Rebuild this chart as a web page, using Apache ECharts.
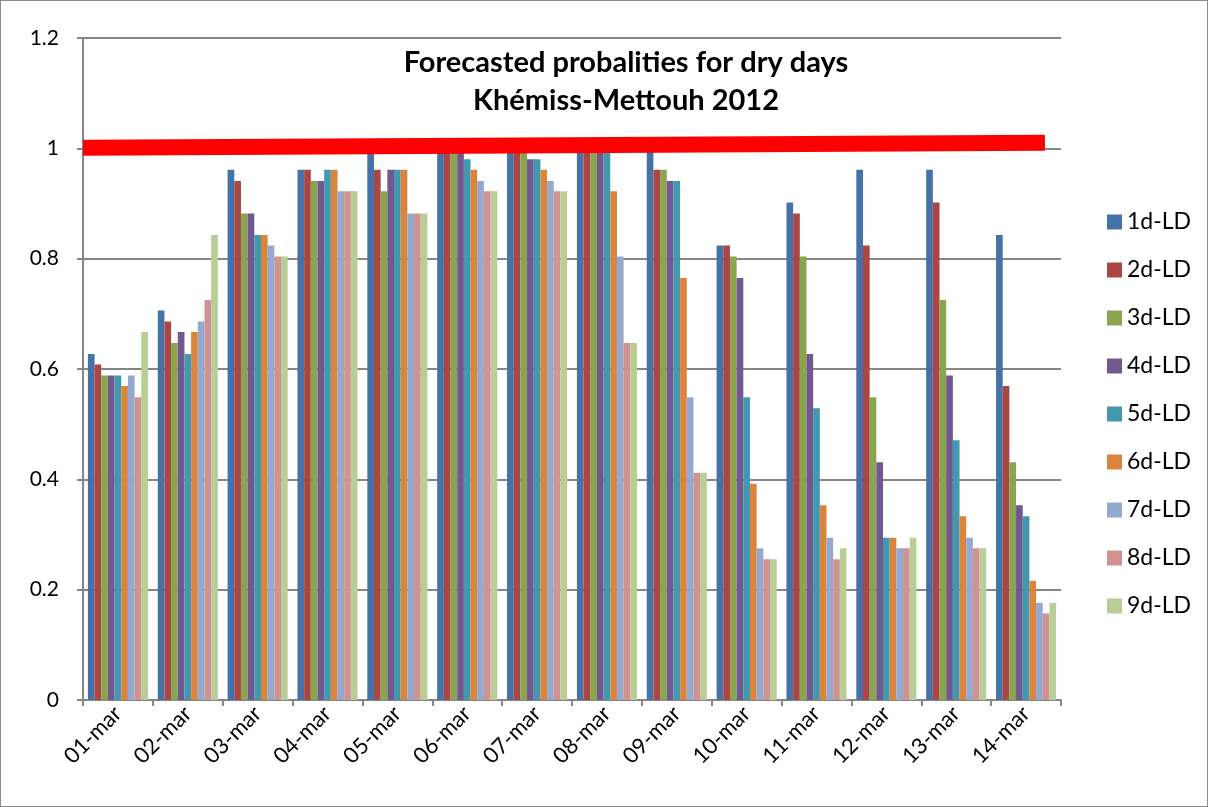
<!DOCTYPE html>
<html>
<head>
<meta charset="utf-8">
<script src="https://cdn.jsdelivr.net/npm/echarts@6/dist/echarts.min.js"></script>
<style>
  html, body { margin: 0; padding: 0; background: #fff; }
  #chart { width: 1206px; height: 805px; border: 1px solid #8c8c8c; }
</style>
</head>
<body>
<div id="chart"></div>
<script>
// Days of March 2012
const categories = ['01-mar', '02-mar', '03-mar', '04-mar', '05-mar', '06-mar', '07-mar',
                    '08-mar', '09-mar', '10-mar', '11-mar', '12-mar', '13-mar', '14-mar'];

// Forecasted probability of a dry day, per lead time (1 to 9 days)
const ld1 = [0.627, 0.706, 0.961, 0.961, 1.000, 1.000, 1.000, 1.000, 1.000, 0.824, 0.902, 0.961, 0.961, 0.843];
const ld2 = [0.608, 0.686, 0.941, 0.961, 0.961, 1.000, 1.000, 1.000, 0.961, 0.824, 0.882, 0.824, 0.902, 0.569];
const ld3 = [0.588, 0.647, 0.882, 0.941, 0.922, 1.000, 1.000, 1.000, 0.961, 0.804, 0.804, 0.549, 0.725, 0.431];
const ld4 = [0.588, 0.667, 0.882, 0.941, 0.961, 1.000, 0.980, 1.000, 0.941, 0.765, 0.627, 0.431, 0.588, 0.353];
const ld5 = [0.588, 0.627, 0.843, 0.961, 0.961, 0.980, 0.980, 1.000, 0.941, 0.549, 0.529, 0.294, 0.471, 0.333];
const ld6 = [0.569, 0.667, 0.843, 0.961, 0.961, 0.961, 0.961, 0.922, 0.765, 0.392, 0.353, 0.294, 0.333, 0.216];
const ld7 = [0.588, 0.686, 0.824, 0.922, 0.882, 0.941, 0.941, 0.804, 0.549, 0.275, 0.294, 0.275, 0.294, 0.176];
const ld8 = [0.549, 0.725, 0.804, 0.922, 0.882, 0.922, 0.922, 0.647, 0.412, 0.255, 0.255, 0.275, 0.275, 0.157];
const ld9 = [0.667, 0.843, 0.804, 0.922, 0.882, 0.922, 0.922, 0.647, 0.412, 0.255, 0.275, 0.294, 0.275, 0.176];

const seriesNames = ['1d-LD', '2d-LD', '3d-LD', '4d-LD', '5d-LD', '6d-LD', '7d-LD', '8d-LD', '9d-LD'];
const seriesValues = [ld1, ld2, ld3, ld4, ld5, ld6, ld7, ld8, ld9];
const colors = ['#4572A7', '#AA4643', '#89A54E', '#71588F', '#4198AF', '#DB843D', '#93A9CF', '#D19392', '#B9CD96'];

// Reference line marking probability 1 (drawn slightly rising, across the plot)
const refLine = [[0, 1.001], [13.77, 1.010]];

const FONT = 'Lato, "Liberation Sans", sans-serif';

const chart = echarts.init(document.getElementById('chart'), null, { renderer: 'canvas' });

const barSeries = seriesNames.map((name, i) => ({
  name: name,
  type: 'bar',
  data: seriesValues[i],
  barGap: '0%',
  barCategoryGap: '14%',
  itemStyle: { color: colors[i] },
  z: 2
}));

chart.setOption({
  animation: false,
  color: colors,
  title: {
    text: 'Forecasted probalities for dry days\nKhémiss-Mettouh 2012',
    left: 620,
    top: 38,
    textAlign: 'center',
    textStyle: { fontFamily: FONT, fontSize: 29, fontWeight: 'bold', color: '#000', lineHeight: 38 }
  },
  legend: {
    data: seriesNames,
    orient: 'vertical',
    left: 1101,
    top: 202,
    itemWidth: 15,
    itemHeight: 15,
    itemGap: 20,
    icon: 'rect',
    textStyle: { fontFamily: FONT, fontSize: 23, color: '#000', lineHeight: 28 }
  },
  grid: { left: 82, right: 146, top: 37, bottom: 106, containLabel: false },
  xAxis: [
    {
      type: 'category',
      data: categories,
      boundaryGap: true,
      axisLine: { lineStyle: { color: '#868686', width: 2 } },
      axisTick: { show: true, alignWithLabel: false, length: 6, lineStyle: { color: '#868686', width: 2 } },
      axisLabel: { rotate: 45, fontFamily: FONT, fontSize: 22, color: '#000', margin: 10 }
    },
    {
      type: 'value',
      min: 0,
      max: 14,
      show: false
    }
  ],
  yAxis: {
    type: 'value',
    min: 0,
    max: 1.2,
    interval: 0.2,
    axisLine: { show: true, lineStyle: { color: '#868686', width: 2 } },
    axisTick: { show: true, length: 6, lineStyle: { color: '#868686', width: 2 } },
    axisLabel: { fontFamily: FONT, fontSize: 21, color: '#000', margin: 24 },
    splitLine: { lineStyle: { color: '#868686', width: 2 } }
  },
  series: barSeries.concat([{
    name: 'ref',
    type: 'line',
    xAxisIndex: 1,
    data: refLine,
    symbol: 'none',
    lineStyle: { color: '#FF0000', width: 16, cap: 'butt' },
    z: 5,
    silent: true
  }])
});
</script>
</body>
</html>
